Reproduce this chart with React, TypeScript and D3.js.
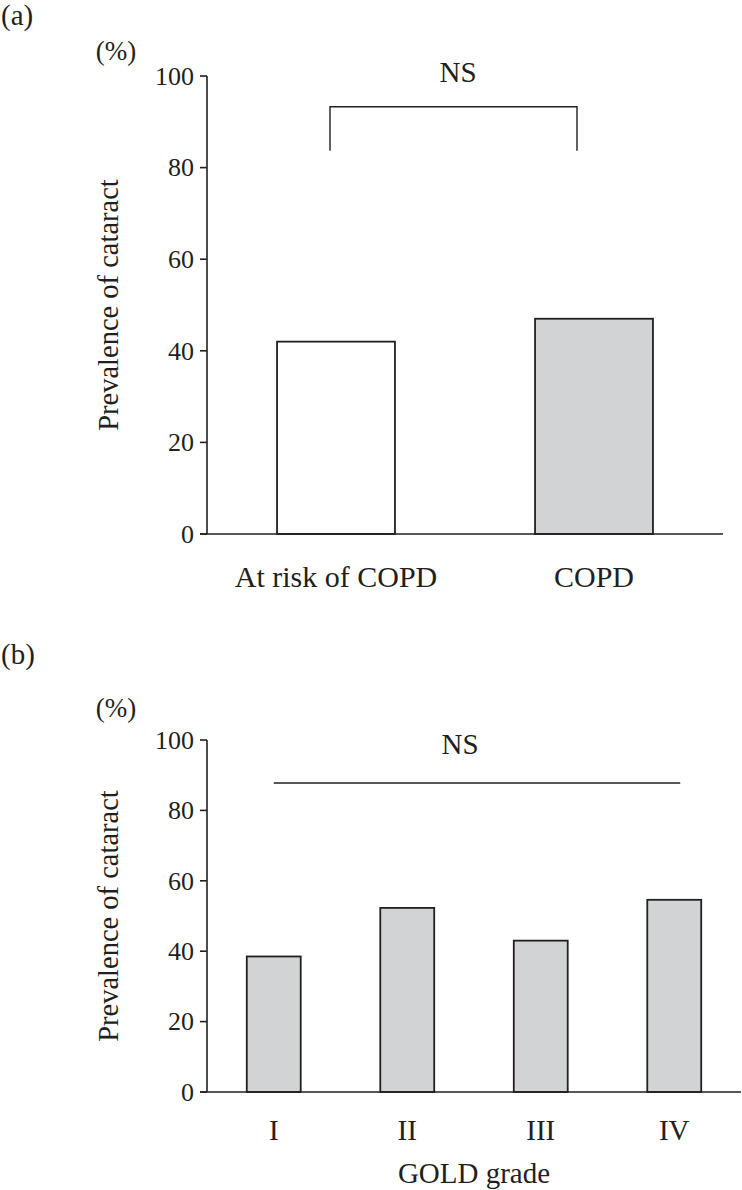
import React from "react";
import * as d3 from "d3";

const catsA = ["At risk of COPD", "COPD"];
const valsA = [42, 47];
const fillsA = ["#ffffff", "#d1d3d4"];

const catsB = ["I", "II", "III", "IV"];
const valsB = [38.5, 52.3, 43, 54.6];

const yTicks = [0, 20, 40, 60, 80, 100];

const INK = "#231f20";
const FONT = "'Liberation Serif', 'Times New Roman', serif";

function Panel(props: {
  cats: string[]; vals: number[]; fills: string[];
  y0: number; y100: number; xr: [number, number]; axisEnd: number;
  pad: number; panelLabel: string; panelLabelY: number; pctY: number;
  catLabelY: number; catFont: number; xTitle?: string; xTitleY?: number;
  bracket: "a" | "b"; nsY: number; nsX: number;
}) {
  const { cats, vals, fills, y0, y100, xr, axisEnd, pad } = props;
  const y = d3.scaleLinear().domain([0, 100]).range([y0, y100]);
  const x = d3.scaleBand<string>().domain(cats).range(xr).paddingInner(pad).paddingOuter(pad / 2);
  const ax = xr[0];
  const first = x(cats[0])! + x.bandwidth() / 2;
  const last = x(cats[cats.length - 1])! + x.bandwidth() / 2;
  return (
    <g>
      <text x={1} y={props.panelLabelY} fontSize={29} fontFamily={FONT} fill={INK}>{props.panelLabel}</text>
      <text x={116} y={props.pctY} fontSize={27} fontFamily={FONT} fill={INK} textAnchor="middle">(%)</text>
      <text transform={`translate(118,${(y0 + y100) / 2}) rotate(-90)`} fontSize={28.5} fontFamily={FONT} fill={INK} textAnchor="middle">Prevalence of cataract</text>
      {cats.map((c, i) => (
        <rect key={c} x={x(c)!} y={y(vals[i])} width={x.bandwidth()} height={y0 - y(vals[i])}
          fill={fills[i]} stroke={INK} strokeWidth={1.8} />
      ))}
      <line x1={ax} x2={ax} y1={y(100)} y2={y0} stroke={INK} strokeWidth={1.6} />
      <line x1={ax - 7} x2={axisEnd} y1={y0} y2={y0} stroke={INK} strokeWidth={1.6} />
      {yTicks.map(t => (
        <g key={t}>
          <line x1={ax - 7} x2={ax} y1={y(t)} y2={y(t)} stroke={INK} strokeWidth={1.6} />
          <text x={ax - 13} y={y(t)} dy="0.34em" fontSize={26} fontFamily={FONT} fill={INK} textAnchor="end">{t}</text>
        </g>
      ))}
      {cats.map(c => (
        <text key={c} x={x(c)! + x.bandwidth() / 2} y={props.catLabelY} fontSize={props.catFont} fontFamily={FONT} fill={INK} textAnchor="middle">{c}</text>
      ))}
      {props.xTitle && (
        <text x={(xr[0] + xr[1]) / 2} y={props.xTitleY} fontSize={29} fontFamily={FONT} fill={INK} textAnchor="middle">{props.xTitle}</text>
      )}
      {props.bracket === "a" ? (
        <path d={`M${first - 6},${y(83.7)}V${y(93.3)}H${last - 17}V${y(83.7)}`} fill="none" stroke={INK} strokeWidth={1.4} />
      ) : (
        <line x1={first} x2={last + 6} y1={y(87.8)} y2={y(87.8)} stroke={INK} strokeWidth={1.4} />
      )}
      <text x={props.nsX} y={y(props.nsY)} fontSize={29} fontFamily={FONT} fill={INK} textAnchor="middle">NS</text>
    </g>
  );
}

export default function App() {
  return (
    <svg width={742} height={1190} style={{ position: "absolute", left: 0, top: 0, background: "#fff" }}>
      <rect width={742} height={1190} fill="#fff" />
      <Panel cats={catsA} vals={valsA} fills={fillsA} y0={534} y100={76} xr={[207, 723]} axisEnd={723}
        pad={0.543} panelLabel="(a)" panelLabelY={25} pctY={60} catLabelY={587} catFont={30}
        bracket="a" nsY={98.7} nsX={458} />
      <Panel cats={catsB} vals={valsB} fills={catsB.map(() => "#d1d3d4")} y0={1092} y100={740} xr={[207, 741]} axisEnd={741}
        pad={0.596} panelLabel="(b)" panelLabelY={664} pctY={717} catLabelY={1140} catFont={29}
        xTitle="GOLD grade" xTitleY={1183} bracket="b" nsY={96} nsX={460} />
    </svg>
  );
}
